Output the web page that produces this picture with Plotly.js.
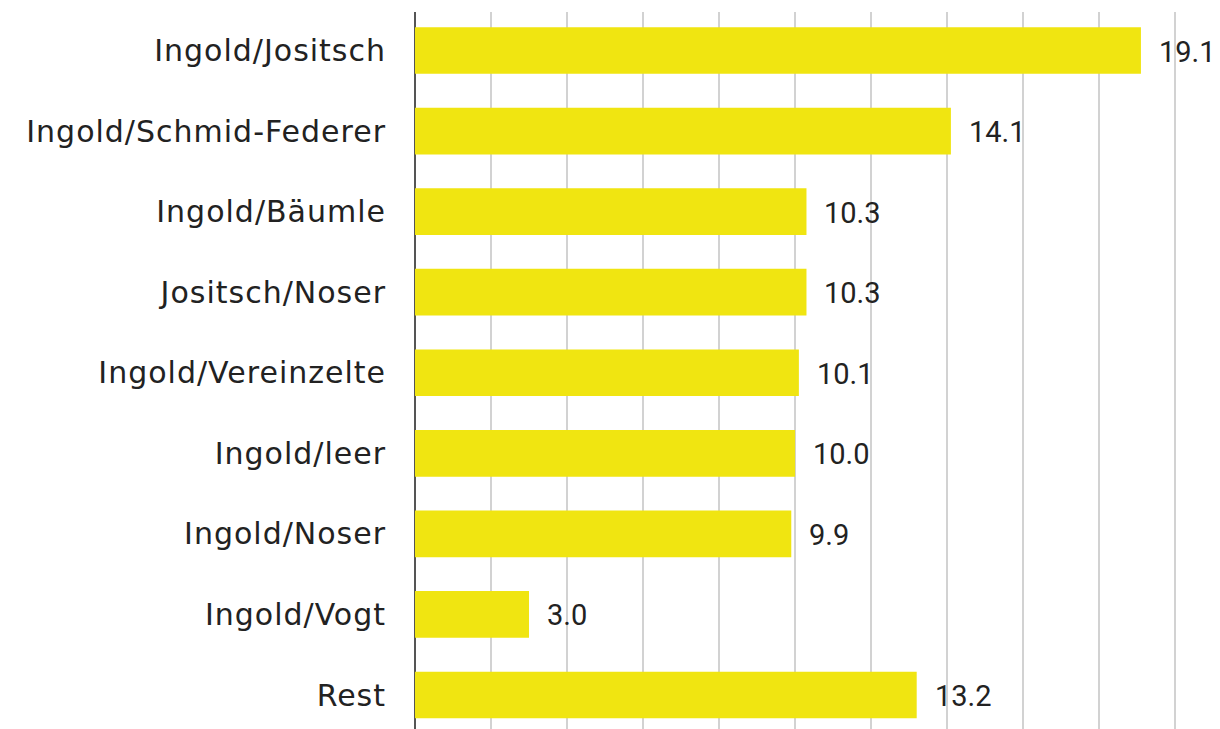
<!DOCTYPE html>
<html><head><meta charset="utf-8">
<script src="https://cdn.plot.ly/plotly-3.0.1.min.js"></script>
<style>body{margin:0;background:#fff}#c{width:1220px;height:729px}
#c .ytick text{letter-spacing:1px}</style>
</head><body><div id="c"></div>
<script>
const categories = ["Ingold/Jositsch","Ingold/Schmid-Federer","Ingold/Bäumle","Jositsch/Noser","Ingold/Vereinzelte","Ingold/leer","Ingold/Noser","Ingold/Vogt","Rest"];
const values = [19.1,14.1,10.3,10.3,10.1,10.0,9.9,3.0,13.2];
const valueLabels = ["19.1","14.1","10.3","10.3","10.1","10.0","9.9","3.0","13.2"];

const LABEL_FONT = "'DejaVu Sans', sans-serif";
const VALUE_FONT = "Roboto, 'Noto Sans', sans-serif";
const trace = {
  type: "bar", orientation: "h",
  x: values, y: categories,
  marker: {color: "#f0e511"},
  hoverinfo: "none"
};
const annotations = categories.map((c,i)=>({
  x: values[i], y: c, xref:"x", yref:"y", text: valueLabels[i],
  showarrow:false, xanchor:"left", xshift:16, yshift:-1,
  font:{family:VALUE_FONT, size:29, color:"#222"}
}));
const layout = {
  width:1220, height:729,
  margin:{l:415, r:0, t:12, b:0},
  paper_bgcolor:"#fff", plot_bgcolor:"#fff",
  bargap:0.42,
  showlegend:false,
  xaxis:{range:[0,21.18], dtick:2, showticklabels:false, ticks:"",
    showgrid:true, gridcolor:"#d2d2d2", gridwidth:2,
    zeroline:true, zerolinecolor:"#555", zerolinewidth:2, fixedrange:true},
  yaxis:{categoryorder:"array", categoryarray:categories, range:[8.422,-0.478],
    showgrid:false, zeroline:false, ticks:"", ticklabelstandoff:28,
    tickfont:{family:LABEL_FONT, size:30, color:"#222"}, fixedrange:true},
  annotations: annotations
};
Plotly.newPlot("c",[trace],layout,{displayModeBar:false,staticPlot:true});
</script></body></html>
